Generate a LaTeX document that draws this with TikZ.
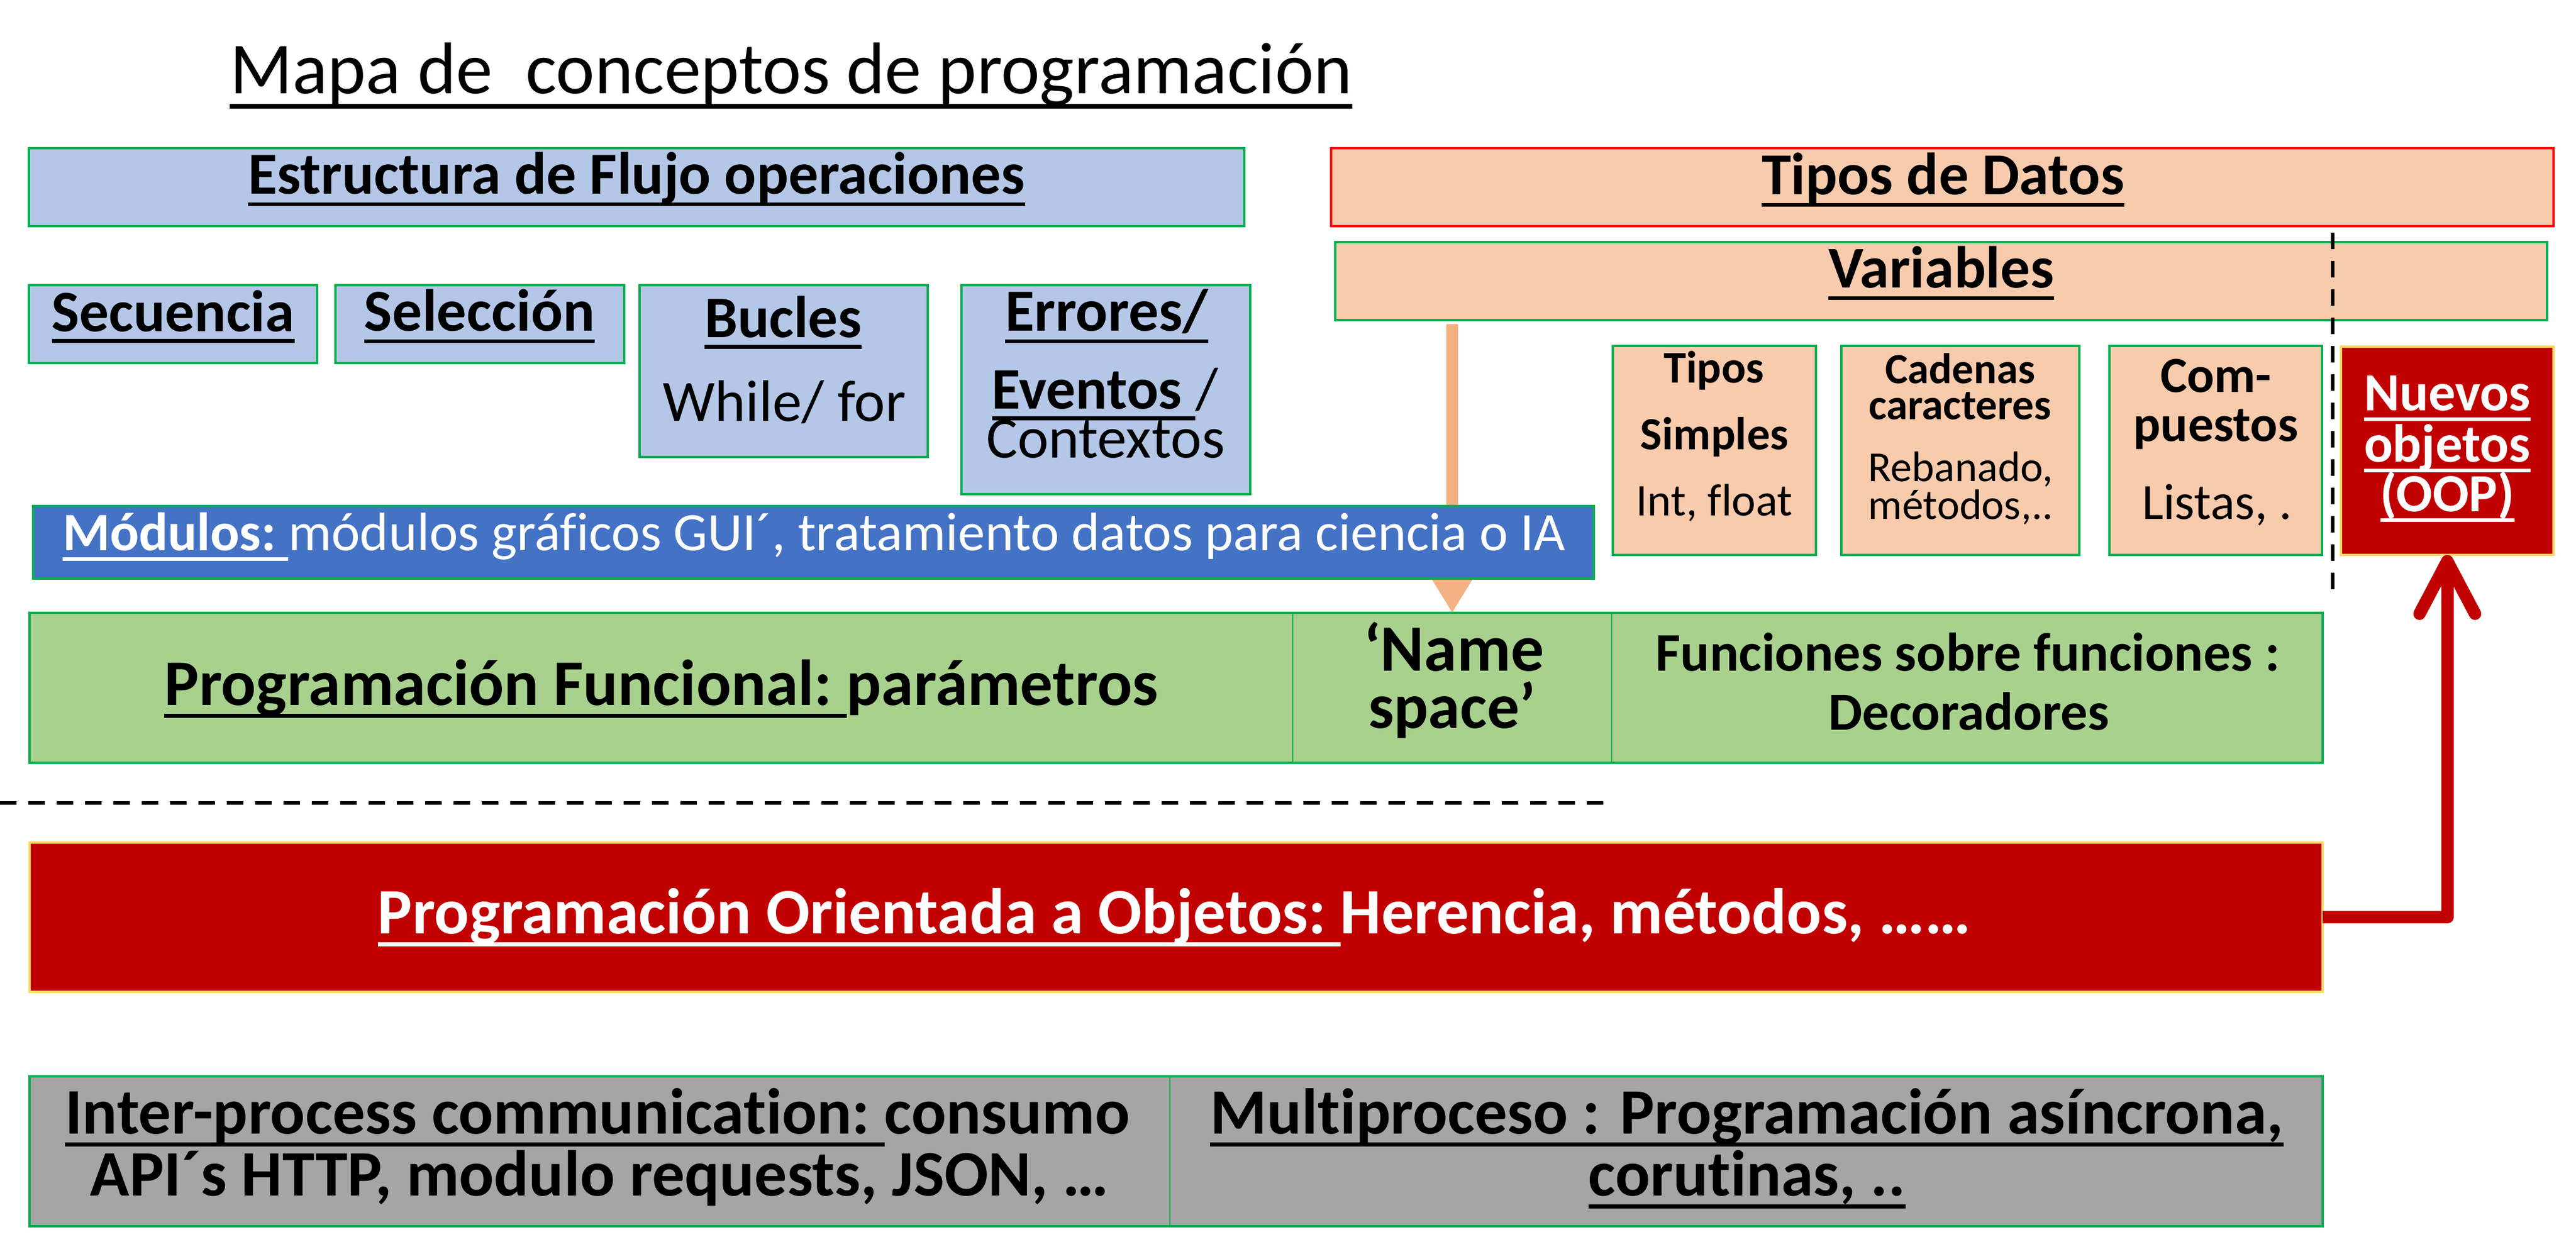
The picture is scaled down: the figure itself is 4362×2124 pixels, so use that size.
\documentclass[tikz,border=0pt]{standalone}
\usepackage{fontspec}
\setmainfont[Ligatures={NoCommon}]{Carlito}
\usepackage{graphicx}
\usetikzlibrary{arrows.meta,fit}
\definecolor{lblue}{HTML}{B4C7E7}
\definecolor{mblue}{HTML}{4472C4}
\definecolor{peach}{HTML}{F8CBAD}
\definecolor{lgreen}{HTML}{A9D18E}
\definecolor{dred}{HTML}{C00000}
\definecolor{lgray}{HTML}{A5A5A5}
\definecolor{bgreen}{HTML}{00B050}
\definecolor{bred}{HTML}{FF0000}
\definecolor{byellow}{HTML}{FFD966}
\definecolor{aorange}{HTML}{F4B183}
\newdimen\pxu \pxu=0.22009pt
\newsavebox\ulbox
\newcommand\fw[2]{\resizebox{#1\pxu}{!}{#2}}
\newcommand\ulx[1]{\sbox\ulbox{#1}\rlap{\rule[-0.2em]{\wd\ulbox}{0.065em}}\usebox\ulbox}
\begin{document}
\begin{tikzpicture}[x=0.22009pt, y=-0.22009pt,
  cbox/.style={draw=bgreen, line width=1pt, inner sep=0pt, outer sep=0pt, rectangle},
  bluebox/.style={cbox, fill=lblue},
  modbox/.style={cbox, fill=mblue},
  peachbox/.style={cbox, fill=peach},
  tipobox/.style={cbox, draw=bred, fill=peach},
  redbox/.style={cbox, draw=byellow, fill=dred},
  cellg/.style={cbox, line width=0.4pt, fill=lgreen},
  cellgray/.style={cbox, line width=0.4pt, fill=lgray},
  outframe/.style={draw=bgreen, line width=1pt, inner sep=0pt, outer sep=0pt, rectangle},
  txt/.style={inner sep=0pt, outer sep=0pt, anchor=base, font=\fontsize{20}{24}\selectfont},
  wtxt/.style={txt, text=white},
  sepline/.style={black, line width=1.5pt, dash pattern=on 6.16pt off 4.4pt},
  redarrow/.style={draw=dred, line width=4.62pt, line join=round,
    -{Straight Barb[length=19.6pt, width=20.7pt, line cap=round, line join=round]}},
  orangearrow/.style={draw=aorange, line width=4.4pt,
    -{Triangle[length=14pt, width=16pt]}}
]
\useasboundingbox (0,0) rectangle (4362,2124);

% title
\node[txt, anchor=base west] (title) at (389,159) {\fw{1901}{\ulx{Mapa de\ \ conceptos de programación}}};

% flow structure boxes
\node[bluebox, fit={(49,251) (2107,383)}] (estr) {};
\node[bluebox, fit={(49,483) (537,615)}] (secu) {};
\node[bluebox, fit={(568,483) (1057,615)}] (sele) {};
\node[bluebox, fit={(1083,483) (1571,774)}] (bucl) {};
\node[bluebox, fit={(1628,483) (2117,837)}] (erro) {};

% data types
\node[tipobox, fit={(2254,251) (4324,383)}] (tipos) {};
\node[peachbox, fit={(2261,410) (4313,542)}] (vars) {};
\node[peachbox, fit={(2731,586) (3075,940)}] (simp) {};
\node[peachbox, fit={(3118,586) (3521,940)}] (cade) {};
\node[peachbox, fit={(3572,586) (3932,940)}] (comp) {};
\node[redbox, fit={(3964,587) (4324,940)}] (nuevos) {};

% functional row
\node[cellg, fit={(50,1038) (2189,1292)}] (fun) {};
\node[cellg, fit={(2189,1038) (2729,1292)}] (nsp) {};
\node[cellg, fit={(2729,1038) (3933,1292)}] (deco) {};
\node[outframe, fit=(fun)(deco)] (funrow) {};

% orange arrow (behind the modules box)
\coordinate (oatop) at (2459,549);
\draw[orangearrow] (oatop) -- (nsp.north);

% modules box
\node[modbox, fit={(56,857) (2699,980)}] (modu) {};

% separators
\draw[sepline] (0,1360) -- (2720,1360);
\draw[sepline] (3950,394) -- (3950,1005);

% OOP
\node[redbox, fit={(50,1427) (3933,1680)}] (oop) {};
\draw[redarrow] (oop.east) -| (nuevos.south);

% bottom row
\node[cellgray, fit={(50,1823) (1981,2077)}] (ipc) {};
\node[cellgray, fit={(1981,1823) (3933,2077)}] (mult) {};
\node[outframe, fit=(ipc)(mult)] (botrow) {};

% ---------- texts ----------
\node[txt] (testr) at (1078,329) {\fw{1315}{\bfseries\ulx{Estructura de Flujo operaciones}}};
\node[txt] (tsecu) at (293,561) {\fw{411}{\bfseries\ulx{Secuencia}}};
\node[txt] (tsele) at (812,561) {\fw{390}{\bfseries\ulx{Selección}}};
\node[txt] (tbuc1) at (1326,571) {\fw{266}{\bfseries\ulx{Bucles}}};
\node[txt] (tbuc2) at (1328,713) {\fw{412}{While/ for}};
\node[txt] (terr1) at (1874,561) {\fw{344}{\bfseries\ulx{Errores/}}};
\node[txt] (terr2) at (1871,692) {\fw{383}{\ulx{\bfseries Eventos\ }/}};
\node[txt] (terr3) at (1872,775) {\fw{404}{Contextos}};
\node[wtxt, anchor=base west] (tmodu) at (106,932) {\fw{2545}{\ulx{\bfseries Módulos:\ }módulos gráficos GUI´, tratamiento datos para ciencia o IA}};

\node[txt] (ttipos) at (3290,330) {\fw{614}{\bfseries\ulx{Tipos de Datos}}};
\node[txt] (tvars) at (3287,488) {\fw{382}{\bfseries\ulx{Variables}}};
\node[txt] (tsim1) at (2902,649) {\fw{170}{\bfseries Tipos}};
\node[txt] (tsim2) at (2903,761) {\fw{251}{\bfseries Simples}};
\node[txt] (tsim3) at (2903,873) {\fw{265}{Int, float}};
\node[txt] (tcad1) at (3319,649) {\fw{254}{\bfseries Cadenas}};
\node[txt] (tcad2) at (3319,710) {\fw{310}{\bfseries caracteres}};
\node[txt] (tcad3) at (3320,815) {\fw{313}{Rebanado,}};
\node[txt] (tcad4) at (3320,879) {\fw{313}{métodos,..}};
\node[txt] (tcom1) at (3752,664) {\fw{188}{\bfseries Com-}};
\node[txt] (tcom2) at (3752,747) {\fw{279}{\bfseries puestos}};
\node[txt] (tcom3) at (3754,879) {\fw{254}{Listas, .}};
\node[wtxt] (tnue1) at (4144,695) {\fw{282}{\bfseries\ulx{Nuevos}}};
\node[wtxt] (tnue2) at (4144,782) {\fw{282}{\bfseries\ulx{objetos}}};
\node[wtxt] (tnue3) at (4144,866) {\fw{227}{\bfseries\ulx{(OOP)}}};

\node[txt] (tfun) at (1120,1194) {\fw{1683}{\bfseries\ulx{Programación Funcional:\ }parámetros}};
\node[txt] (tnsp1) at (2462,1136) {\fw{306}{\bfseries ‘Name}};
\node[txt] (tnsp2) at (2459,1233) {\fw{284}{\bfseries space’}};
\node[txt] (tdec1) at (3332,1136) {\fw{1057}{\bfseries Funciones sobre funciones :}};
\node[txt] (tdec2) at (3334,1236) {\fw{476}{\bfseries Decoradores}};

\node[wtxt] (toop) at (1989,1581) {\fw{2698}{\bfseries\ulx{Programación Orientada a Objetos:\ }Herencia, métodos, ……}};

\node[txt] (tipc1) at (1012,1920) {\fw{1803}{\bfseries\ulx{Inter-process communication:\ }consumo}};
\node[txt] (tipc2) at (1015,2025) {\fw{1725}{\bfseries API´s HTTP, modulo requests, JSON, …}};
\node[txt] (tmul1) at (2958,1920) {\fw{1817}{\bfseries\ulx{Multiproceso : Programación asíncrona,}}};
\node[txt] (tmul2) at (2958,2025) {\fw{537}{\bfseries\ulx{corutinas, ..}}};
\end{tikzpicture}
\end{document}
